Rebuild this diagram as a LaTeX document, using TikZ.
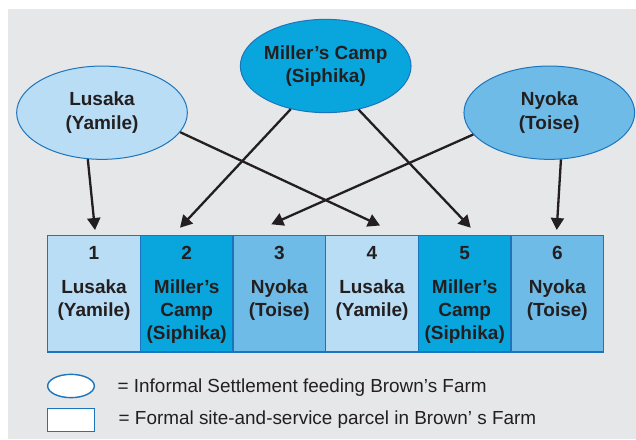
\documentclass[tikz,border=0pt]{standalone}
\usepackage{fontspec}
\setmainfont{Liberation Sans}
\usetikzlibrary{shapes.geometric,arrows.meta}
\definecolor{bg}{HTML}{E6E7E8}
\definecolor{edge}{HTML}{1C75BC}
\definecolor{lusc}{HTML}{B9DDF5}
\definecolor{milc}{HTML}{09A6DE}
\definecolor{nyoc}{HTML}{6FBBE7}
\definecolor{ink}{HTML}{231F20}
\begin{document}
\begin{tikzpicture}[x=1pt,y=-1pt,
  settle/.style={ellipse, draw=edge, line width=1pt, minimum width=170.7pt, minimum height=93.3pt,
    inner ysep=0pt, inner xsep=-2.5pt, align=center, font=\bfseries\fontsize{19}{23.3}\selectfont, text=ink},
  parcel/.style={rectangle, draw=edge, line width=1.2pt, minimum width=92.7pt, minimum height=116.3pt, inner sep=0pt},
  lbl/.style={anchor=base, inner sep=0pt, font=\bfseries\fontsize{19}{23}\selectfont, text=ink},
  feed/.style={draw=ink, line width=2.3pt, -{Triangle[length=12pt,width=13pt]}},
  legtext/.style={anchor=base west, inner sep=0pt, font=\fontsize{18.9}{23}\selectfont, text=ink}]
\useasboundingbox (0,0) rectangle (636,439);
\fill[bg] (8,9) rectangle (636,439);

% settlements
\node[settle, fill=lusc] (lus) at (102,112.7) {Lusaka\\(Yamile)};
\node[settle, fill=milc] (mil) at (325.7,66) {Miller’s Camp\\(Siphika)};
\node[settle, fill=nyoc] (nyo) at (549.3,112.7) {Nyoka\\(Toise)};

% parcels
\node[parcel, fill=lusc] (b1) at (94,293.85) {};
\node[parcel, fill=milc] (b2) at (186.7,293.85) {};
\node[parcel, fill=nyoc] (b3) at (279.3,293.85) {};
\node[parcel, fill=lusc] (b4) at (372,293.85) {};
\node[parcel, fill=milc] (b5) at (464.7,293.85) {};
\node[parcel, fill=nyoc] (b6) at (557.3,293.85) {};

% parcel texts
\foreach \i/\x in {1/94,2/186.7,3/279.3,4/372,5/464.7,6/557.3}
  \node[lbl] (n\i) at (\x,259.3) {\i};
\foreach \i/\x/\la/\lb in {1/94/Lusaka/(Yamile),3/279.3/Nyoka/(Toise),4/372/Lusaka/(Yamile),6/557.3/Nyoka/(Toise)}{
  \node[lbl] (la\i) at (\x,293.3) {\la};
  \node[lbl] (lb\i) at (\x,316.3) {\lb};
}
\foreach \i/\x in {2/186.7,5/464.7}{
  \node[lbl] (la\i) at (\x,293.3) {Miller’s};
  \node[lbl] (lb\i) at (\x,316.3) {Camp};
  \node[lbl] (lc\i) at (\x,339.3) {(Siphika)};
}

% arrow targets
\coordinate (t1) at (95,230);
\coordinate (t2) at (180,227.7);
\coordinate (t3) at (271.3,224.3);
\coordinate (t4) at (380,225.5);
\coordinate (t5) at (470.7,227.7);
\coordinate (t6) at (556.7,230);

\draw[feed] (lus.253.6) -- (t1);
\draw[feed] (lus.346.3) -- (t4);
\draw[feed] (mil.231.5) -- (t2);
\draw[feed] (mil.307.3) -- (t5);
\draw[feed] (nyo.196.5) -- (t3);
\draw[feed] (nyo.284.9) -- (t6);

% legend
\node[ellipse, draw=edge, line width=1.4pt, fill=white, minimum width=46.7pt, minimum height=23.3pt, inner sep=0pt] (legE) at (71,386) {};
\node[rectangle, draw=edge, line width=1.4pt, fill=white, minimum width=46.7pt, minimum height=23.3pt, inner sep=0pt] (legR) at (71,420) {};
\node[legtext] (legEt) at (117.5,392.3) {= Informal Settlement feeding Brown’s Farm};
\node[legtext] (legRt) at (118.5,424) {= Formal site-and-service parcel in Brown’ s Farm};
\end{tikzpicture}
\end{document}
